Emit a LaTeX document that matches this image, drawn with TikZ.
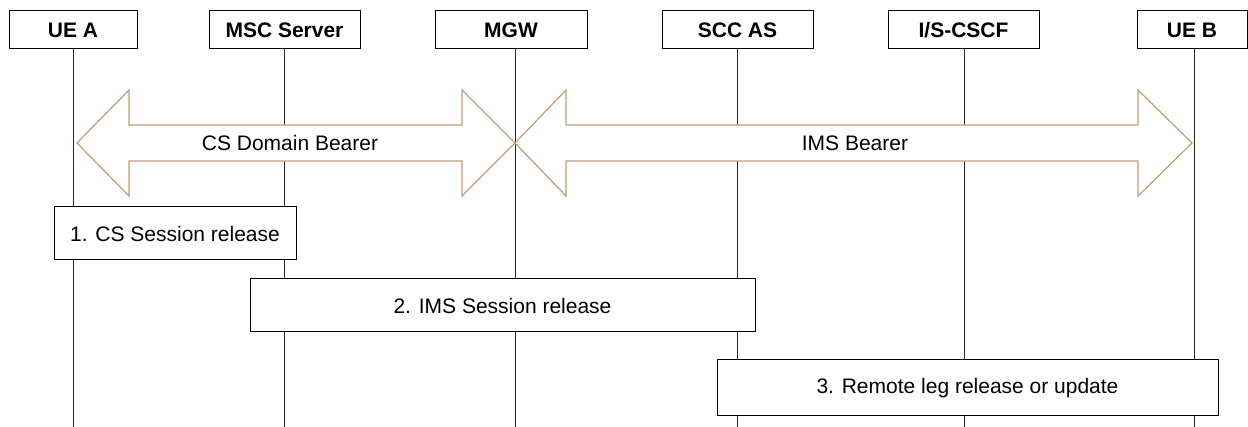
\documentclass[tikz,border=0pt]{standalone}
\usepackage{fontspec}
\setmainfont{Liberation Sans}
\definecolor{bearer}{RGB}{190,160,118}
\begin{document}
\begin{tikzpicture}[x=1pt,y=-1pt,
  txt/.style={font=\fontsize{21}{25}\selectfont},
  entity/.style={draw=black,line width=1pt,fill=white,minimum height=38pt,inner sep=0pt,font=\fontsize{21}{25}\selectfont\bfseries},
  lifeline/.style={draw=black!85,line width=1pt},
  bearerarrow/.style={draw=bearer,line width=1.2pt,fill=white},
  actionbox/.style={draw=black,line width=1pt,fill=white,inner sep=0pt,font=\fontsize{21}{25}\selectfont}]
\useasboundingbox (0,0) rectangle (1248,427);
\fill[white] (0,0) rectangle (1248,427);
% entities
\node[entity,minimum width=128pt] (uea) at (73,30) {UE A};
\node[entity,minimum width=151pt] (msc) at (284.5,30) {MSC Server};
\node[entity,minimum width=152pt] (mgw) at (511,30) {MGW};
\node[entity,minimum width=151pt] (scc) at (737.5,30) {SCC AS};
\node[entity,minimum width=151pt] (cscf) at (963.5,30) {I/S-CSCF};
\node[entity,minimum width=110pt] (ueb) at (1192,30) {UE B};
% lifeline ends
\coordinate (ueaE) at (73,427);
\coordinate (mscE) at (284,427);
\coordinate (mgwE) at (515,427);
\coordinate (sccE) at (737,427);
\coordinate (cscfE) at (964,427);
\coordinate (uebE) at (1194,427);
\draw[lifeline] (uea.south) -- (ueaE);
\draw[lifeline] (284,49) -- (mscE);
\draw[lifeline] (515,49) -- (mgwE);
\draw[lifeline] (737,49) -- (sccE);
\draw[lifeline] (964,49) -- (cscfE);
\draw[lifeline] (1194,49) -- (uebE);
% bearers
\draw[bearerarrow] (77,143) -- (129,90) -- (129,125) -- (462,125) -- (462,90) -- (515,143)
  -- (462,196) -- (462,161) -- (129,161) -- (129,196) -- cycle;
\node[txt] (csb) at (290,143) {CS Domain Bearer};
\draw[bearerarrow] (515,143) -- (566,90) -- (566,125) -- (1138,125) -- (1138,90) -- (1192,143)
  -- (1138,196) -- (1138,161) -- (566,161) -- (566,196) -- cycle;
\node[txt] (imsb) at (855,143) {IMS Bearer};
% actions
\node[actionbox,minimum width=242pt,minimum height=53pt] (a1) at (175,233.5) {1. CS Session release};
\node[actionbox,minimum width=505pt,minimum height=53pt] (a2) at (502.5,305.5) {2. IMS Session release};
\node[actionbox,minimum width=501pt,minimum height=56pt] (a3) at (967.5,388) {3. Remote leg release or update};
\end{tikzpicture}
\end{document}
